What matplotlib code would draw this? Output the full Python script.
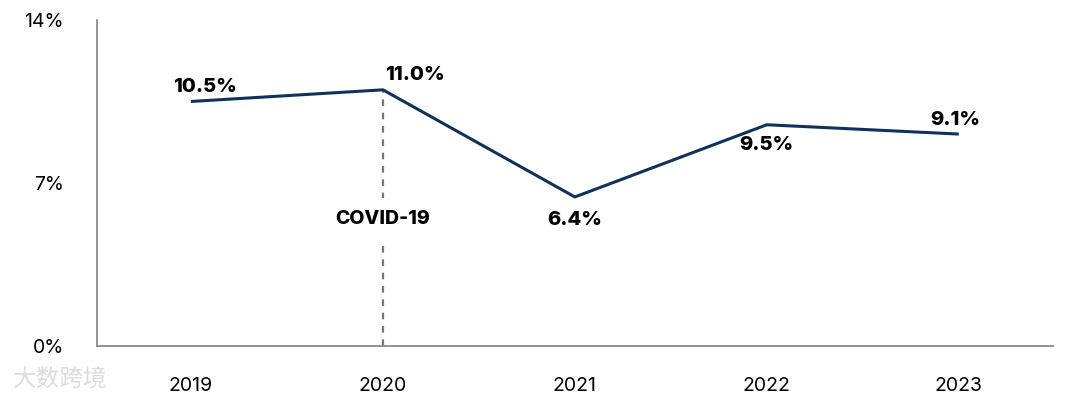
import matplotlib.pyplot as plt

# Data
years = ["2019", "2020", "2021", "2022", "2023"]
growth = [10.5, 11.0, 6.4, 9.5, 9.1]
labels = ["10.5%", "11.0%", "6.4%", "9.5%", "9.1%"]
yticks = [0, 7, 14]
ytick_labels = ["0%", "7%", "14%"]

plt.rcParams['font.family'] = ['Inter', 'Noto Sans CJK SC', 'DejaVu Sans']

fig = plt.figure(figsize=(10.8, 3.99), dpi=100)
ax = fig.add_axes([0.0898, 0.1328, 0.885, 0.8172])

x = list(range(len(years)))
navy = "#13305a"
ax.plot(x, growth, color=navy, lw=2.2, solid_capstyle="butt", zorder=3)

# COVID-19 marker at 2020
ax.plot([1, 1], [0, growth[1]], color="#777777", lw=1.6, ls=(0, (3, 3)), zorder=2)
ax.text(1, 5.45, "COVID-19", ha="center", va="center", fontsize=14, fontweight="heavy",
        color="black", zorder=4, bbox=dict(facecolor="white", edgecolor="none", pad=9))

# Data labels: (dx, dy, ha, va)
offsets = [(0.07, 0.25, "center", "bottom"),
           (0.01, 0.25, "left", "bottom"),
           (0.0, -0.6, "center", "top"),
           (0.0, -0.5, "center", "top"),
           (-0.02, 0.2, "center", "bottom")]
for xi, yi, lab, (dx, dy, ha, va) in zip(x, growth, labels, offsets):
    ax.text(xi + dx, yi + dy, lab, ha=ha, va=va, fontsize=14.5, fontweight="heavy", color="black")

ax.set_xlim(-0.49, 4.49)
ax.set_ylim(0, 14)
ax.set_xticks(x)
ax.set_xticklabels(years, fontsize=14)
ax.set_yticks(yticks)
ax.set_yticklabels(ytick_labels, fontsize=14)
ax.tick_params(axis="x", length=0, pad=22)
ax.tick_params(axis="y", length=0, pad=24)

for side in ["top", "right"]:
    ax.spines[side].set_visible(False)
for side in ["left", "bottom"]:
    ax.spines[side].set_color("#8a8a8a")
    ax.spines[side].set_linewidth(1.3)

# watermark
fig.text(0.012, 0.048, "大数跨境", fontsize=17, color="#dcdcdc", ha="left", va="center")

fig.savefig("out.png", dpi=100)
